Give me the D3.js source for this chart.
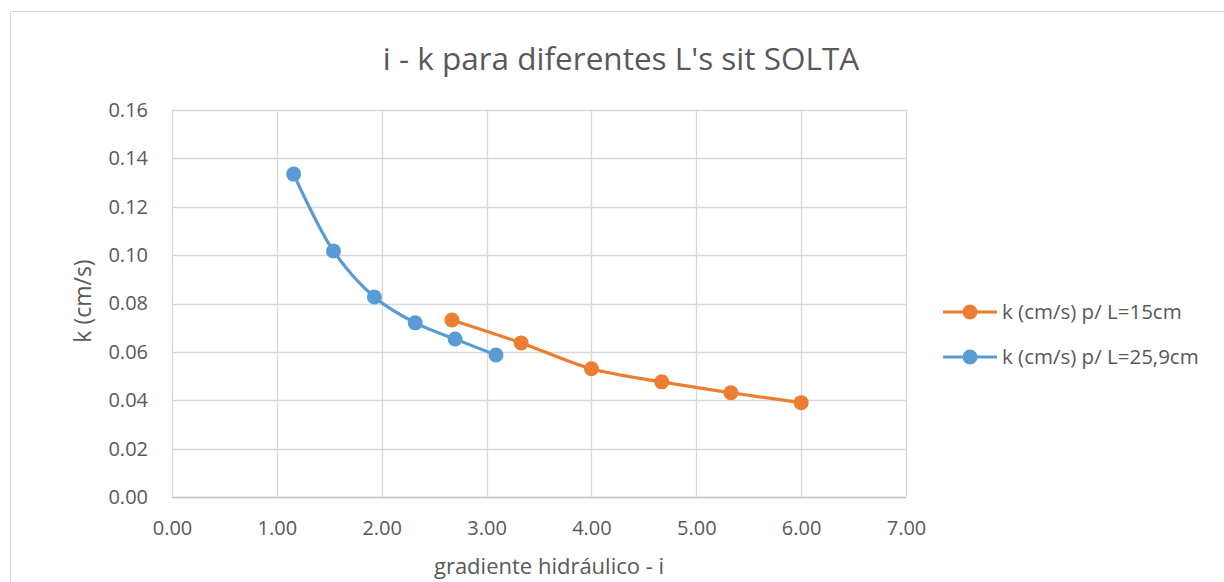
<!DOCTYPE html>
<html>
<head>
<meta charset="utf-8">
<script src="https://cdn.jsdelivr.net/npm/d3@7"></script>
<style>
  body { margin: 0; background: #fff; }
  text { font-family: "Open Sans", "Liberation Sans", sans-serif; fill: #595959; }
</style>
</head>
<body>
<div id="svganchor"></div>
<script>
let width = 1224;
let height = 582;
let margin = { top: 110, right: 318, bottom: 85, left: 172 };

// data
let iL15 = [2.67, 3.33, 4.00, 4.67, 5.33, 6.00];
let kL15 = [0.0732, 0.0637, 0.0530, 0.0476, 0.0431, 0.0390];
let iL259 = [1.16, 1.54, 1.93, 2.32, 2.70, 3.09];
let kL259 = [0.1335, 0.1017, 0.0827, 0.0720, 0.0653, 0.0587];

let xTicks = [0, 1, 2, 3, 4, 5, 6, 7];
let yTicks = [0, 0.02, 0.04, 0.06, 0.08, 0.10, 0.12, 0.14, 0.16];

let series = [
  { name: "k (cm/s) p/ L=15cm", color: "#ED7D31", xs: iL15, ys: kL15 },
  { name: "k (cm/s) p/ L=25,9cm", color: "#5B9BD5", xs: iL259, ys: kL259 }
];

let svg = d3.select("#svganchor").append("svg").attr("width", width).attr("height", height);

// chart border
svg.append("rect")
  .attr("x", 10.5).attr("y", 11.5)
  .attr("width", 1300).attr("height", 700)
  .attr("fill", "none").attr("stroke", "#D9D9D9");

let xScale = d3.scaleLinear().domain([0, 7]).range([margin.left, width - margin.right]);
let yScale = d3.scaleLinear().domain([0, 0.16]).range([height - margin.bottom, margin.top]);

// gridlines
svg.selectAll(".hgrid").data(yTicks).enter().append("line")
  .attr("class", "hgrid")
  .attr("x1", xScale(0)).attr("x2", xScale(7))
  .attr("y1", d => Math.round(yScale(d)) + 0.5).attr("y2", d => Math.round(yScale(d)) + 0.5)
  .attr("stroke", d => d === 0 ? "#BFBFBF" : "#D9D9D9").attr("stroke-width", 1.3);

svg.selectAll(".vgrid").data(xTicks).enter().append("line")
  .attr("class", "vgrid")
  .attr("x1", d => Math.round(xScale(d)) + 0.5).attr("x2", d => Math.round(xScale(d)) + 0.5)
  .attr("y1", yScale(0.16)).attr("y2", yScale(0))
  .attr("stroke", "#D9D9D9").attr("stroke-width", 1.3);

// axes labels
let xAxis = d3.axisBottom(xScale).tickValues(xTicks).tickFormat(d3.format(".2f")).tickSize(0).tickPadding(24);
let yAxis = d3.axisLeft(yScale).tickValues(yTicks).tickFormat(d3.format(".2f")).tickSize(0).tickPadding(24);

let gx = svg.append("g").attr("transform", "translate(0," + yScale(0) + ")").call(xAxis);
let gy = svg.append("g").attr("transform", "translate(" + xScale(0) + ",0)").call(yAxis);
[gx, gy].forEach(g => {
  g.select(".domain").remove();
  g.selectAll("text").style("font-size", "20px").attr("fill", "#595959")
    .style("font-family", "'Open Sans', sans-serif");
});

// titles
svg.append("text")
  .attr("x", 621).attr("y", 70)
  .attr("text-anchor", "middle")
  .style("font-size", "31.5px")
  .text("i - k para diferentes L's sit SOLTA");

svg.append("text")
  .attr("x", 549).attr("y", 574)
  .attr("text-anchor", "middle")
  .style("font-size", "22px")
  .text("gradiente hidráulico - i");

svg.append("text")
  .attr("transform", "translate(91,301) rotate(-90)")
  .attr("text-anchor", "middle")
  .style("font-size", "23px")
  .text("k (cm/s)");

// lines + markers
let line = d3.line()
  .x(d => xScale(d[0]))
  .y(d => yScale(d[1]))
  .curve(d3.curveCatmullRom.alpha(0.5));

series.forEach(s => {
  let pts = s.xs.map((x, i) => [x, s.ys[i]]);
  svg.append("path")
    .datum(pts)
    .attr("d", line)
    .attr("fill", "none")
    .attr("stroke", s.color)
    .attr("stroke-width", 3.2)
    .attr("stroke-linecap", "round");
  svg.selectAll(null).data(pts).enter().append("circle")
    .attr("cx", d => xScale(d[0]))
    .attr("cy", d => yScale(d[1]))
    .attr("r", 7.5)
    .attr("fill", s.color);
});

// legend
let legend = svg.append("g").attr("transform", "translate(943,312)");
series.forEach((s, i) => {
  let g = legend.append("g").attr("transform", "translate(0," + (i * 45) + ")");
  g.append("line").attr("x1", 0).attr("x2", 54).attr("y1", 0).attr("y2", 0)
    .attr("stroke", s.color).attr("stroke-width", 3.2);
  g.append("circle").attr("cx", 27).attr("cy", 0).attr("r", 7.5).attr("fill", s.color);
  g.append("text").attr("x", 59).attr("y", 7).style("font-size", "20.5px").text(s.name);
});
</script>
</body>
</html>
